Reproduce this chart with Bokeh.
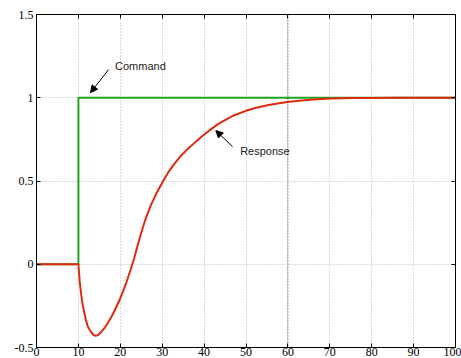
from bokeh.plotting import figure
from bokeh.models import LinearAxis, Range1d, Span, Arrow, NormalHead, Label, FixedTicker
from bokeh.embed import file_html
from bokeh.resources import INLINE

# Data
cmd_x = [0, 10, 10, 100]
cmd_y = [0, 0, 1, 1]

resp_x = [0, 10, 10.3, 10.7, 11, 11.4, 11.8, 12.2, 12.6, 13.1, 13.6, 14.1, 14.7, 15.5,
          16.3, 17.1, 17.9, 18.7, 19.9, 20.7, 21.5, 22.5, 23.3, 24.1, 24.9, 26, 27.3,
          28.5, 30, 31.4, 32.8, 34.4, 36, 38, 39.8, 41.6, 43.2, 45, 47.2, 49.8, 52,
          55.1, 57.5, 59.9, 62, 64.7, 67, 70.2, 75, 80, 85, 90, 95, 100]
resp_y = [0, 0, -0.10, -0.19, -0.24, -0.29, -0.335, -0.37, -0.39, -0.41, -0.425, -0.43,
          -0.425, -0.405, -0.38, -0.35, -0.315, -0.275, -0.21, -0.16, -0.105, -0.03,
          0.035, 0.11, 0.18, 0.27, 0.355, 0.42, 0.49, 0.55, 0.60, 0.65, 0.69, 0.735,
          0.775, 0.81, 0.84, 0.865, 0.895, 0.92, 0.937, 0.955, 0.966, 0.975, 0.981,
          0.987, 0.991, 0.995, 0.998, 0.999, 1.0, 1.0, 1.0, 1.0]

x_ticks = [0, 10, 20, 30, 40, 50, 60, 70, 80, 90, 100]
y_ticks = [-0.5, 0, 0.5, 1, 1.5]
y_tick_labels = {-0.5: "-0.5", 0: "0", 0.5: "0.5", 1: "1", 1.5: "1.5"}

p = figure(width=461, height=358, output_backend="svg", toolbar_location=None,
           x_range=Range1d(0, 100), y_range=Range1d(-0.5, 1.5),
           min_border_left=36, min_border_right=6, min_border_top=14, min_border_bottom=0)
p.background_fill_color = "white"
p.border_fill_color = "white"
p.outline_line_color = "black"
p.outline_line_width = 1

serif = "Liberation Serif"

def style_axis(ax, standoff):
    ax.axis_line_color = "black"
    ax.axis_line_width = 1
    ax.major_tick_in = 4
    ax.major_tick_out = 0
    ax.minor_tick_line_color = None
    ax.major_tick_line_color = "black"
    ax.major_label_text_font = serif
    ax.major_label_text_font_size = "12px"
    ax.major_label_text_color = "black"
    ax.major_label_standoff = standoff

p.xaxis.ticker = FixedTicker(ticks=x_ticks)
p.yaxis.ticker = FixedTicker(ticks=y_ticks)
p.yaxis.major_label_overrides = {k: v for k, v in y_tick_labels.items()}
style_axis(p.xaxis[0], 0)
style_axis(p.yaxis[0], 3)

top = LinearAxis(ticker=FixedTicker(ticks=x_ticks),
                 major_label_overrides={t: "" for t in x_ticks})
right = LinearAxis(ticker=FixedTicker(ticks=y_ticks),
                   major_label_overrides={t: "" for t in y_ticks})
for ax in [top, right]:
    style_axis(ax, 0)
p.add_layout(top, "above")
p.add_layout(right, "right")

p.xgrid.ticker = FixedTicker(ticks=x_ticks)
p.ygrid.ticker = FixedTicker(ticks=y_ticks)
for g in [p.xgrid[0], p.ygrid[0]]:
    g.grid_line_color = "#b8b8b8"
    g.grid_line_dash = "1 2"
    g.grid_line_width = 1

p.add_layout(Span(location=60, dimension="height", line_color="#333333",
                  line_dash="1 2", line_width=1))

p.line(cmd_x, cmd_y, line_color="#22a322", line_width=2)
p.line(resp_x, resp_y, line_color="#e02a10", line_width=2)

p.add_layout(Arrow(end=NormalHead(size=7, fill_color="black", line_color="black"),
                   x_start=17.2, y_start=1.169, x_end=12.9, y_end=1.031,
                   line_color="black", line_width=1))
p.add_layout(Arrow(end=NormalHead(size=7, fill_color="black", line_color="black"),
                   x_start=46.8, y_start=0.706, x_end=42.8, y_end=0.803,
                   line_color="black", line_width=1))

p.add_layout(Label(x=18.75, y=1.189, text="Command", text_font="Liberation Sans",
                   text_font_size="11px", text_baseline="middle", text_color="#222222"))
p.add_layout(Label(x=48.6, y=0.68, text="Response", text_font="Liberation Sans",
                   text_font_size="11px", text_baseline="middle", text_color="#222222"))

open("out.html", "w").write(file_html(p, INLINE))
